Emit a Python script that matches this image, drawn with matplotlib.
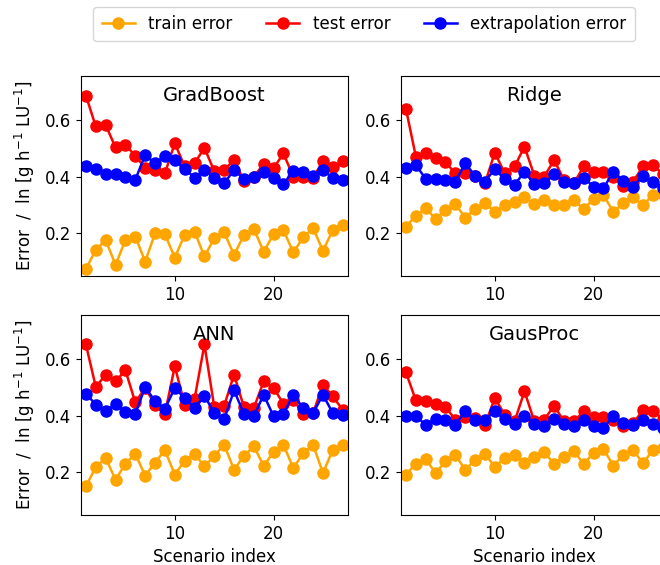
#!/usr/bin/env python3
# -*- coding: utf-8 -*-

"""
Train / test / extrapolation error per scenario for four regressors.
"""

import numpy as np
from matplotlib import pyplot as plt


# DATA ########################################################################

scenarios = np.arange(1, 28)

models = ['GradBoost', 'Ridge', 'ANN', 'GausProc']

gradboost_train = [0.075, 0.142, 0.177, 0.089, 0.177, 0.189, 0.101, 0.200, 0.197,
                   0.115, 0.195, 0.206, 0.119, 0.183, 0.204, 0.124, 0.195, 0.216,
                   0.136, 0.197, 0.212, 0.133, 0.186, 0.219, 0.139, 0.212, 0.231]
gradboost_test = [0.686, 0.577, 0.582, 0.503, 0.512, 0.474, 0.430, 0.424, 0.412,
                  0.518, 0.436, 0.447, 0.502, 0.419, 0.424, 0.459, 0.386, 0.400,
                  0.445, 0.430, 0.482, 0.400, 0.398, 0.397, 0.454, 0.433, 0.454]
gradboost_extra = [0.439, 0.427, 0.409, 0.409, 0.400, 0.389, 0.477, 0.447, 0.474,
                   0.459, 0.427, 0.397, 0.424, 0.397, 0.377, 0.424, 0.392, 0.400,
                   0.416, 0.395, 0.374, 0.420, 0.415, 0.404, 0.424, 0.395, 0.390]

ridge_train = [0.224, 0.263, 0.289, 0.251, 0.283, 0.303, 0.256, 0.286, 0.306,
               0.277, 0.300, 0.312, 0.327, 0.303, 0.318, 0.300, 0.300, 0.318,
               0.286, 0.322, 0.334, 0.277, 0.306, 0.327, 0.300, 0.336, 0.340]
ridge_test = [0.639, 0.471, 0.483, 0.465, 0.451, 0.412, 0.412, 0.404, 0.377,
              0.485, 0.412, 0.436, 0.506, 0.404, 0.400, 0.459, 0.389, 0.377,
              0.436, 0.418, 0.418, 0.400, 0.369, 0.383, 0.436, 0.441, 0.410]
ridge_extra = [0.432, 0.442, 0.392, 0.392, 0.389, 0.383, 0.447, 0.404, 0.383,
               0.427, 0.392, 0.371, 0.418, 0.374, 0.377, 0.409, 0.383, 0.377,
               0.397, 0.365, 0.359, 0.418, 0.385, 0.365, 0.404, 0.380, 0.360]

ann_train = [0.151, 0.219, 0.251, 0.174, 0.231, 0.266, 0.188, 0.235, 0.278,
             0.192, 0.242, 0.266, 0.221, 0.259, 0.298, 0.209, 0.259, 0.292,
             0.224, 0.271, 0.298, 0.215, 0.268, 0.298, 0.198, 0.280, 0.298]
ann_test = [0.651, 0.501, 0.545, 0.521, 0.560, 0.447, 0.498, 0.439, 0.407,
            0.574, 0.439, 0.459, 0.651, 0.430, 0.435, 0.545, 0.430, 0.427,
            0.521, 0.498, 0.442, 0.456, 0.407, 0.409, 0.509, 0.468, 0.421]
ann_extra = [0.478, 0.439, 0.415, 0.442, 0.412, 0.407, 0.501, 0.451, 0.424,
             0.498, 0.462, 0.427, 0.471, 0.409, 0.388, 0.489, 0.407, 0.398,
             0.474, 0.398, 0.407, 0.474, 0.427, 0.409, 0.474, 0.409, 0.404]

gausproc_train = [0.192, 0.231, 0.247, 0.198, 0.239, 0.262, 0.209, 0.245, 0.266,
                  0.219, 0.251, 0.262, 0.233, 0.256, 0.271, 0.231, 0.256, 0.274,
                  0.231, 0.268, 0.282, 0.224, 0.262, 0.278, 0.233, 0.278, 0.286]
gausproc_test = [0.553, 0.454, 0.451, 0.442, 0.431, 0.386, 0.395, 0.392, 0.368,
                 0.462, 0.404, 0.380, 0.486, 0.380, 0.386, 0.435, 0.380, 0.380,
                 0.415, 0.395, 0.395, 0.386, 0.362, 0.374, 0.419, 0.415, 0.390]
gausproc_extra = [0.400, 0.398, 0.368, 0.388, 0.384, 0.368, 0.415, 0.386, 0.386,
                  0.415, 0.388, 0.372, 0.400, 0.372, 0.365, 0.388, 0.372, 0.365,
                  0.386, 0.362, 0.356, 0.400, 0.374, 0.368, 0.386, 0.372, 0.356]

train_errors = [gradboost_train, ridge_train, ann_train, gausproc_train]
test_errors = [gradboost_test, ridge_test, ann_test, gausproc_test]
extra_errors = [gradboost_extra, ridge_extra, ann_extra, gausproc_extra]

series_labels = ['train error', 'test error', 'extrapolation error']
series_colors = ['orange', 'red', 'blue']

YLABEL = r'Error  /  ln [g h$^{-1}$ LU$^{-1}$]'


# PLOT ########################################################################

fig = plt.figure(figsize=(6.6, 5.65), dpi=100)

# the right column runs past the figure edge, as in the original
positions = [[0.1227, 0.5115, 0.404, 0.354],
             [0.6076, 0.5115, 0.404, 0.354],
             [0.1227, 0.0885, 0.404, 0.354],
             [0.6076, 0.0885, 0.404, 0.354]]

for i, name in enumerate(models):
    ax = fig.add_axes(positions[i])
    for values, label, color in zip([train_errors[i], test_errors[i], extra_errors[i]],
                                    series_labels, series_colors):
        ax.plot(scenarios, values, '-o', color=color, label=label,
                lw=1.8, ms=8)

    ax.set_xlim(0.5, 27.5)
    ax.set_ylim(0.05, 0.755)
    ax.set_xticks([10, 20])
    ax.set_yticks([0.2, 0.4, 0.6])
    ax.tick_params(labelsize=12)
    ax.text(0.5, 0.9, name, transform=ax.transAxes,
            ha='center', va='center', fontsize=14)

    if i % 2 == 0:
        ax.set_ylabel(YLABEL, fontsize=12, labelpad=6)
    if i >= 2:
        ax.set_xlabel('Scenario index', fontsize=12)

    if i == 0:
        handles, labels = ax.get_legend_handles_labels()

fig.legend(handles, labels, loc='center', ncol=3, fontsize=12,
           bbox_to_anchor=(0.5515, 0.9575), handlelength=2.0,
           columnspacing=2.0, borderpad=0.5)

fig.savefig('out.png', dpi=100)
